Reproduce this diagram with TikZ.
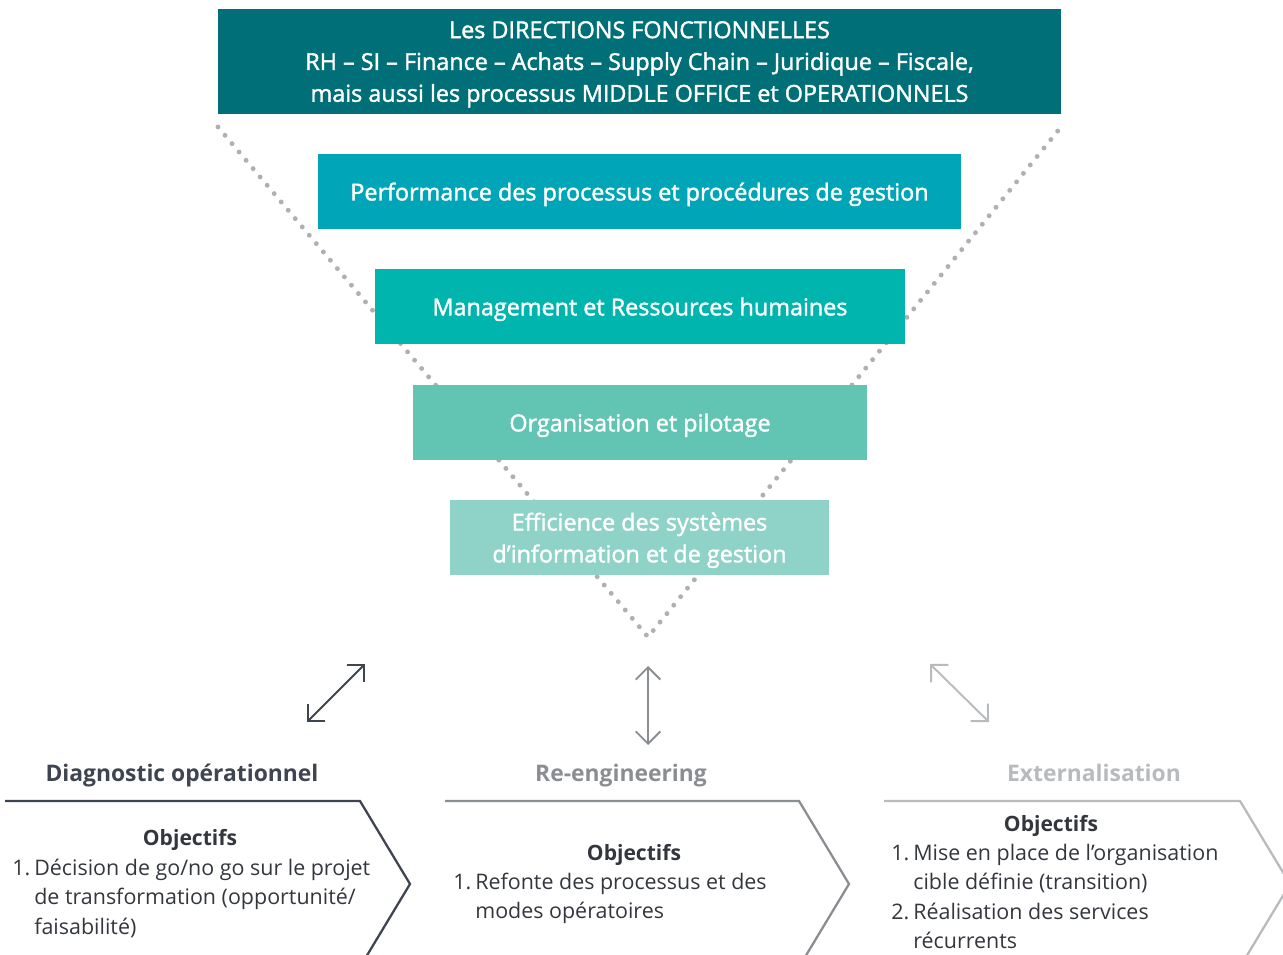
\documentclass[tikz,border=0pt]{standalone}
\usepackage{fontspec}
\setmainfont{Open Sans}
\newfontfamily\semi{Open Sans}[Ligatures=TeX, FakeBold=1.6]
\usetikzlibrary{arrows.meta}
\definecolor{tealA}{HTML}{006F77}
\definecolor{tealB}{HTML}{00A6B8}
\definecolor{tealC}{HTML}{00B5AD}
\definecolor{tealD}{HTML}{62C5B3}
\definecolor{tealE}{HTML}{8FD3C8}
\definecolor{dotgray}{HTML}{B0B0B0}
\definecolor{greyA}{HTML}{3E4450}
\definecolor{greyB}{HTML}{8A8D91}
\definecolor{greyC}{HTML}{B8BBBD}
\definecolor{txt}{HTML}{33373D}
\begin{document}
\begin{tikzpicture}[x=0.02cm, y=-0.02cm, font=\fontsize{13.3}{18.1}\selectfont\semi,
		band/.style={fill=#1, text=white, inner sep=0pt, minimum height=1.5cm, align=center, text depth=-1.3pt},
		dots/.style={draw=dotgray, line width=2.8pt, line cap=round, dash pattern=on 0pt off 6.2pt},
		dbl/.style={{Straight Barb[length=7pt,width=14pt]}-{Straight Barb[length=7pt,width=14pt]}, line width=1.1pt},
		chev/.style={line width=1.3pt, line join=miter},
		title/.style={font=\fontsize{13}{18}\selectfont\bfseries, anchor=base},
		obj/.style={font=\fontsize{12}{16.8}\selectfont\bfseries, text=txt},
		items/.style={font=\fontsize{12.2}{16.8}\selectfont, text=txt, inner sep=0pt, anchor=base west}]
			\useasboundingbox (0,0) rectangle (1283,955);
			\coordinate (l) at (218,127) ;
			\coordinate (r) at (1061,127) ;
			\coordinate (v) at (648,637) ;
			\draw[dots] (l) -- (v) -- (r) ;
			\node[band=tealA, minimum width=16.86cm, minimum height=2.1cm] (dir) at (639.5,61.5) {Les DIRECTIONS FONCTIONNELLES\\RH – SI – Finance – Achats – Supply Chain – Juridique – Fiscale,\\mais aussi les processus MIDDLE OFFICE et OPERATIONNELS};
			\node[band=tealB, minimum width=12.86cm] (perf) at (639.5,191.5) {Performance des processus et procédures de gestion};
			\node[band=tealC, minimum width=10.6cm] (mgmt) at (640,306.5) {Management et Ressources humaines};
			\node[band=tealD, minimum width=9.08cm] (orga) at (640,422.5) {Organisation et pilotage};
			\node[band=tealE, minimum width=7.58cm] (eff) at (639.5,537.5) {Efficience des systèmes\\d’information et de gestion};
			% arrows
			\coordinate (a1) at (307,722) ;
			\coordinate (a2) at (365,664) ;
			\coordinate (b1) at (648,666) ;
			\coordinate (b2) at (648,745) ;
			\coordinate (c1) at (930,664) ;
			\coordinate (c2) at (989,722) ;
			\draw[dbl, greyA] (a1) -- (a2) ;
			\draw[dbl, greyB] (b1) -- (b2) ;
			\draw[dbl, greyC] (c1) -- (c2) ;
			% chevrons
			\draw[chev, greyA] (5,801) -- (360,801) -- (410,884) -- (360,967) ;
			\draw[chev, greyB] (445,801) -- (799,801) -- (849,884) -- (799,967) ;
			\draw[chev, greyC] (884,801) -- (1240,801) -- (1290,884) -- (1240,967) ;
			\node[title, text=greyA] (diag) at (182,781) {Diagnostic opérationnel};
			\node[title, text=greyB] (reng) at (621,781) {Re-engineering};
			\node[title, text=greyC] (ext) at (1094,781) {Externalisation};
			\node[obj] (o1) at (190,840) {Objectifs};
			\node[obj] (o2) at (634,855) {Objectifs};
			\node[obj] (o3) at (1051,826) {Objectifs};
			\node[items] (i1) at (12,875) {\begin{tabular}[t]{@{}p{12.5pt}@{}l@{}}1.&Décision de go/no go sur le projet\\&de transformation (opportunité/\\&faisabilité)\end{tabular}};
			\node[items] (i2) at (453,889) {\begin{tabular}[t]{@{}p{12.5pt}@{}l@{}}1.&Refonte des processus et des\\&modes opératoires\end{tabular}};
			\node[items] (i3) at (891,860) {\begin{tabular}[t]{@{}p{12.5pt}@{}l@{}}1.&Mise en place de l’organisation\\&cible définie (transition)\\2.&Réalisation des services\\&récurrents\end{tabular}};
		\end{tikzpicture}
\end{document}
